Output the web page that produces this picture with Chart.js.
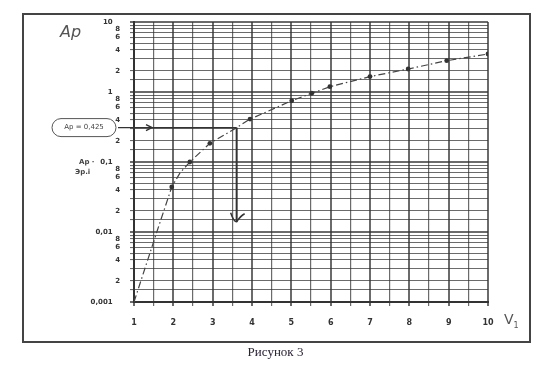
<!DOCTYPE html>
<html>
<head>
<meta charset="utf-8">
<script src="https://cdn.jsdelivr.net/npm/chart.js@4/dist/chart.umd.min.js"></script>
<style>
  html, body { margin: 0; padding: 0; background: #fff; }
  #wrap { position: relative; width: 551px; height: 384px; overflow: hidden; }
  #c { position: absolute; left: 0; top: 0; }
  #frame { position: absolute; left: 22px; top: 13px; width: 505px; height: 326px;
           border: 2px solid #444; pointer-events: none; }
  .t { position: absolute; white-space: nowrap; color: #333; }
  #cap { left: 0; width: 551px; top: 344px; text-align: center;
         font: 13px "Liberation Serif", serif; color: #2a2233; }
  #ylab { left: 60px; top: 22px; font: italic 16px "DejaVu Sans", sans-serif; color: #555; }
  #xlab { left: 504px; top: 311px; font: 14px "DejaVu Sans", sans-serif; color: #555; }
</style>
</head>
<body>
<div id="wrap">
  <canvas id="c" width="551" height="384"></canvas>
  <div id="frame"></div>
  <div class="t" id="ylab">Aр</div>
  <div class="t" id="xlab">V<sub style="font-size:8px">1</sub></div>
  <div class="t" id="cap">Рисунок 3</div>
</div>
<script>
// ---- data ----
const v1Values = [1, 1.58, 1.96, 2.17, 2.42, 2.93, 3.61, 3.95, 5.01, 5.52, 5.98, 7.0, 7.97, 8.95, 10];
const apValues = [0.001, 0.01, 0.044, 0.07, 0.1, 0.185, 0.31, 0.41, 0.75, 0.96, 1.19, 1.66, 2.13, 2.8, 3.49];
const markerIdx = [2, 4, 5, 7, 8, 9, 10, 11, 12, 13, 14]; // points drawn with a dot
const xTickLabels = ['1', '2', '3', '4', '5', '6', '7', '8', '9', '10'];
const yDecades = [0.001, 0.01, 0.1, 1, 10];
const yDecadeLabels = ['0,001', '0,01', '0,1', '1', '10'];
const yMinorMultipliers = [1.5, 2, 3, 4, 5, 6, 7, 8, 9];
const yMinorLabelled = [2, 4, 6, 8];
const apMarkLevel = 0.31;      // horizontal marker
const apMarkV1 = 3.61;         // where it meets the curve
const apMarkArrowTo = 0.014;   // vertical arrow end
const apMarkText = 'Aр = 0,425';

// ---- build tick lists ----
const yTicks = [];
yDecades.forEach((d, i) => {
  yTicks.push({ value: d, label: yDecadeLabels[i] + '   ', major: true });
  if (i < yDecades.length - 1) {
    yMinorMultipliers.forEach(m => {
      yTicks.push({ value: +(d * m).toPrecision(6),
                    label: yMinorLabelled.includes(m) ? String(m) : '', major: false });
    });
  }
});
const curve = v1Values.map((x, i) => ({ x, y: apValues[i] }));

const gridCol = 'rgba(50,50,50,0.72)';

const annot = {
  id: 'annot',
  afterDatasetsDraw(chart) {
    const { ctx, scales: { x, y } } = chart;
    const yy = y.getPixelForValue(apMarkLevel);
    const xx = x.getPixelForValue(apMarkV1);
    const yEnd = y.getPixelForValue(apMarkArrowTo);
    ctx.save();
    ctx.strokeStyle = '#333';
    ctx.lineWidth = 1.4;
    ctx.beginPath(); ctx.moveTo(118, yy); ctx.lineTo(xx, yy); ctx.stroke();
    ctx.beginPath(); ctx.moveTo(146, yy - 3); ctx.lineTo(152, yy); ctx.lineTo(146, yy + 3); ctx.stroke();
    ctx.lineWidth = 2;
    ctx.beginPath(); ctx.moveTo(xx, yy); ctx.lineTo(xx, yEnd); ctx.stroke();
    ctx.lineWidth = 1.5;
    ctx.beginPath(); ctx.moveTo(xx - 6, yEnd - 9); ctx.quadraticCurveTo(xx - 3, yEnd, xx, yEnd);
    ctx.quadraticCurveTo(xx + 4, yEnd - 6, xx + 8, yEnd - 8); ctx.stroke();
    ctx.lineWidth = 1;
    ctx.strokeStyle = '#555';
    const bx = 52, by = yy - 9, bw = 64, bh = 18, r = 9;
    ctx.beginPath();
    ctx.moveTo(bx + r, by); ctx.lineTo(bx + bw - r, by);
    ctx.arcTo(bx + bw, by, bx + bw, by + r, r); ctx.arcTo(bx + bw, by + bh, bx + bw - r, by + bh, r);
    ctx.lineTo(bx + r, by + bh); ctx.arcTo(bx, by + bh, bx, by + bh - r, r);
    ctx.arcTo(bx, by, bx + r, by, r); ctx.closePath(); ctx.stroke();
    ctx.fillStyle = '#444';
    ctx.font = '7px "DejaVu Sans", sans-serif';
    ctx.textAlign = 'center'; ctx.textBaseline = 'middle';
    ctx.fillText(apMarkText, bx + bw / 2, yy);
    const y01 = y.getPixelForValue(0.1);
    ctx.font = 'bold 7px "DejaVu Sans", sans-serif';
    ctx.textAlign = 'left';
    ctx.fillText('Aр ·', 79, y01);
    ctx.fillText('Эр.і', 75, y01 + 10);
    ctx.restore();
  }
};

new Chart(document.getElementById('c'), {
  type: 'line',
  data: {
    datasets: [{
      data: curve,
      borderColor: '#444',
      borderWidth: 1.2,
      borderDash: [7, 3, 1.5, 3],
      tension: 0,
      pointRadius: ctx => markerIdx.includes(ctx.dataIndex) ? 2.4 : 0,
      pointBackgroundColor: '#333',
      pointBorderWidth: 0
    }]
  },
  options: {
    responsive: false,
    animation: false,
    events: [],
    layout: { padding: { left: 0, top: 22, right: 63, bottom: 0 } },
    plugins: { legend: { display: false }, tooltip: { enabled: false } },
    scales: {
      x: {
        type: 'linear', min: 1, max: 10,
        afterFit: s => { s.height = 82; },
        ticks: {
          stepSize: 0.5, padding: 12, color: '#333',
          font: { family: '"DejaVu Sans", sans-serif', size: 8, weight: 'bold' },
          callback: v => Number.isInteger(v) ? xTickLabels[v - 1] : '',
          autoSkip: false, maxRotation: 0
        },
        grid: {
          color: gridCol,
          lineWidth: c => (c.tick && Number.isInteger(c.tick.value)) ? 2 : 1.2,
          drawTicks: true, tickLength: 4
        },
        border: { color: '#333', width: 2 }
      },
      y: {
        type: 'logarithmic', min: 0.001, max: 10,
        afterFit: s => { s.width = 134; },
        afterBuildTicks: s => { s.ticks = yTicks.map(t => ({ value: t.value })); },
        ticks: {
          padding: 10, color: '#333', autoSkip: false,
          font: { family: '"DejaVu Sans", sans-serif', size: 7, weight: 'bold' },
          callback: v => { const t = yTicks.find(q => Math.abs(q.value - v) < v * 1e-6); return t ? t.label : ''; }
        },
        grid: {
          color: gridCol,
          lineWidth: c => { const t = c.tick && yTicks.find(q => Math.abs(q.value - c.tick.value) < c.tick.value * 1e-6); return t && t.major ? 2 : 1.1; },
          tickLength: 4
        },
        border: { color: '#333', width: 2 }
      }
    }
  },
  plugins: [annot]
});
</script>
</body>
</html>
